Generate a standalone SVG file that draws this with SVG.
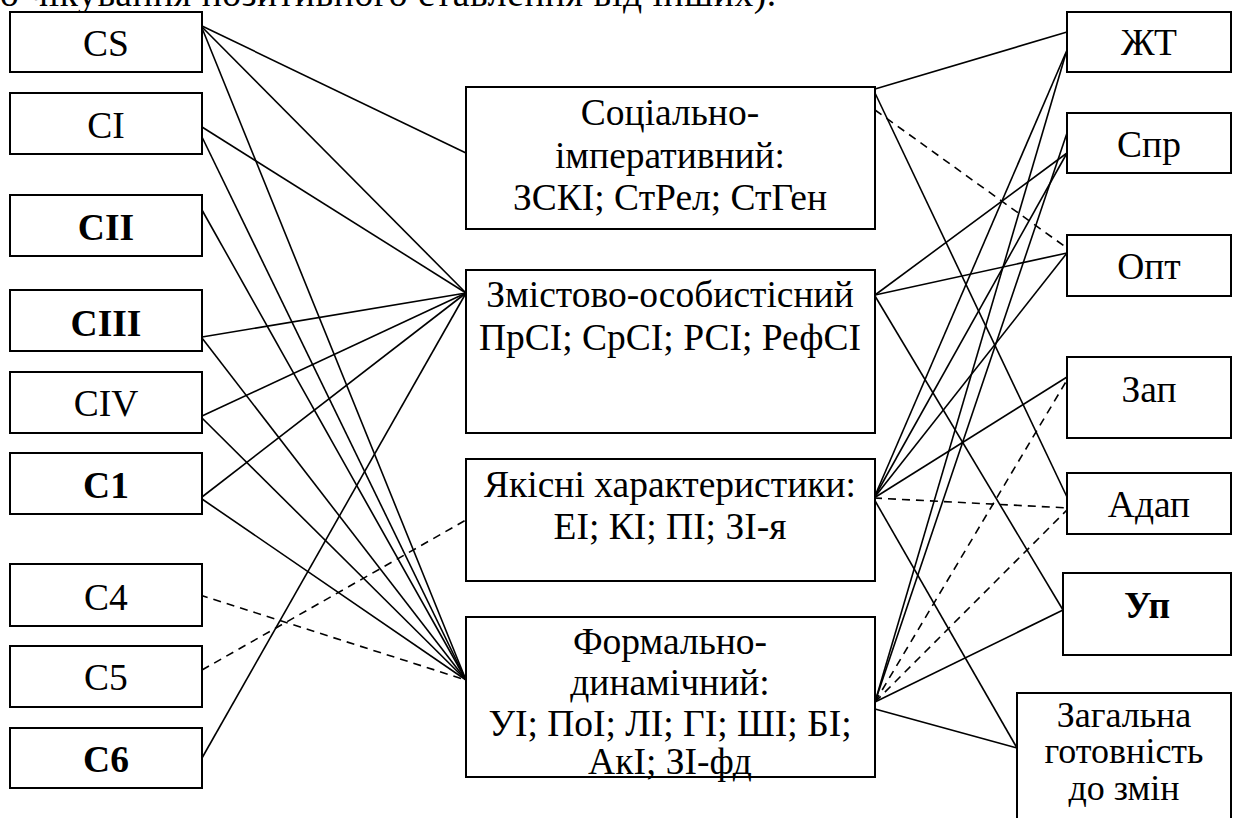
<svg xmlns="http://www.w3.org/2000/svg" width="1233" height="818" viewBox="0 0 1233 818" font-family="'Liberation Serif', 'DejaVu Serif', serif">
<style>
rect.b{fill:#fff;stroke:#000;stroke-width:2}
text{font-family:'Liberation Serif','DejaVu Serif',serif;font-size:37.5px;fill:#000;text-anchor:middle}
text.bd{font-weight:bold}
text.sm{font-size:36px}
#connectors line{stroke:#000;stroke-width:1.6;fill:none}
#connectors line.d{stroke-dasharray:8,6}
</style>
<rect width="1233" height="818" fill="#fff"/>
<text x="0" y="6" style="text-anchor:start;letter-spacing:0.6px">о чікування позитивного ставлення від інших).</text>
<g id="connectors">
<line x1="202" y1="26" x2="466" y2="153"/>
<line x1="202" y1="27" x2="466" y2="293"/>
<line x1="202" y1="28" x2="466" y2="680"/>
<line x1="202" y1="127" x2="466" y2="293"/>
<line x1="202" y1="137" x2="466" y2="680"/>
<line x1="202" y1="210" x2="466" y2="680"/>
<line x1="202" y1="337" x2="466" y2="293"/>
<line x1="202" y1="338" x2="466" y2="680"/>
<line x1="202" y1="416" x2="466" y2="293"/>
<line x1="202" y1="418" x2="466" y2="680"/>
<line x1="202" y1="497" x2="466" y2="293"/>
<line x1="202" y1="499" x2="466" y2="680"/>
<line class="d" x1="200" y1="595" x2="466" y2="680"/>
<line class="d" x1="202" y1="670" x2="466" y2="520"/>
<line x1="202" y1="758" x2="466" y2="293"/>
<line x1="875" y1="89" x2="1067" y2="32"/>
<line x1="875" y1="93" x2="1067" y2="497"/>
<line class="d" x1="875" y1="110" x2="1067" y2="248"/>
<line x1="875" y1="295" x2="1067" y2="153"/>
<line x1="875" y1="295" x2="1067" y2="253"/>
<line x1="875" y1="296" x2="1063" y2="610"/>
<line x1="874" y1="498" x2="1067" y2="50"/>
<line x1="874" y1="498" x2="1067" y2="153"/>
<line x1="874" y1="498" x2="1067" y2="253"/>
<line x1="874" y1="498" x2="1067" y2="377"/>
<line class="d" x1="874" y1="498" x2="1069" y2="508"/>
<line x1="874" y1="499" x2="1017" y2="748"/>
<line x1="875" y1="702" x2="1066" y2="53"/>
<line x1="875" y1="702" x2="1067" y2="133"/>
<line class="d" x1="875" y1="702" x2="1067" y2="380"/>
<line class="d" x1="875" y1="702" x2="1069" y2="508"/>
<line x1="875" y1="702" x2="1063" y2="610"/>
<line x1="875" y1="709" x2="1017" y2="748"/>
</g>
<g id="n-cs"><rect class="b" x="10" y="12" width="192" height="60"/><text x="106" y="56">CS</text></g>
<g id="n-ci"><rect class="b" x="10" y="93" width="192" height="61"/><text x="106" y="138">CI</text></g>
<g id="n-cii"><rect class="b" x="10" y="195" width="192" height="61"/><text class="bd" x="106" y="240">CII</text></g>
<g id="n-ciii"><rect class="b" x="10" y="290" width="192" height="61"/><text class="bd" x="106" y="336">CIII</text></g>
<g id="n-civ"><rect class="b" x="10" y="372" width="192" height="61"/><text x="106" y="416">CIV</text></g>
<g id="n-c1"><rect class="b" x="10" y="453" width="192" height="61"/><text class="bd" x="106" y="498">C1</text></g>
<g id="n-c4"><rect class="b" x="10" y="564" width="192" height="62"/><text x="106" y="610">C4</text></g>
<g id="n-c5"><rect class="b" x="10" y="646" width="192" height="61"/><text x="106" y="690">C5</text></g>
<g id="n-c6"><rect class="b" x="10" y="728" width="192" height="60"/><text class="bd" x="106" y="772">C6</text></g>
<g id="n-soc"><rect class="b" x="466" y="87" width="409" height="142"/><text x="670" y="125">Соціально-</text><text x="670" y="168">імперативний:</text><text x="670" y="210">ЗСКІ; СтРел; СтГен</text></g>
<g id="n-zmist"><rect class="b" x="466" y="270" width="409" height="163"/><text x="670" y="307">Змістово-особистісний</text><text x="670" y="350">ПрСІ; СрСІ; РСІ; РефСІ</text></g>
<g id="n-yak"><rect class="b" x="466" y="459" width="409" height="122"/><text x="670" y="497">Якісні характеристики:</text><text x="670" y="539">ЕІ; КІ; ПІ; ЗІ-я</text></g>
<g id="n-form"><rect class="b" x="466" y="617" width="409" height="160"/><text x="670" y="654">Формально-</text><text x="670" y="695">динамічний:</text><text x="670" y="736">УІ; ПоІ; ЛІ; ГІ; ШІ; БІ;</text><text x="670" y="774">АкІ; ЗІ-фд</text></g>
<g id="n-zht"><rect class="b" x="1067" y="12" width="164" height="60"/><text x="1149" y="55">ЖТ</text></g>
<g id="n-spr"><rect class="b" x="1067" y="113" width="164" height="60"/><text x="1149" y="157">Спр</text></g>
<g id="n-opt"><rect class="b" x="1067" y="235" width="164" height="61"/><text x="1149" y="279">Опт</text></g>
<g id="n-zap"><rect class="b" x="1067" y="357" width="164" height="81"/><text x="1149" y="402">Зап</text></g>
<g id="n-adap"><rect class="b" x="1067" y="473" width="164" height="61"/><text x="1149" y="517">Адап</text></g>
<g id="n-up"><rect class="b" x="1063" y="573" width="168" height="82"/><text class="bd" x="1147" y="618">Уп</text></g>
<g id="n-zag"><rect class="b" x="1017" y="693" width="214" height="140"/><text class="sm" x="1124" y="727">Загальна</text><text class="sm" x="1124" y="763">готовність</text><text class="sm" x="1124" y="800">до змін</text></g>
</svg>
